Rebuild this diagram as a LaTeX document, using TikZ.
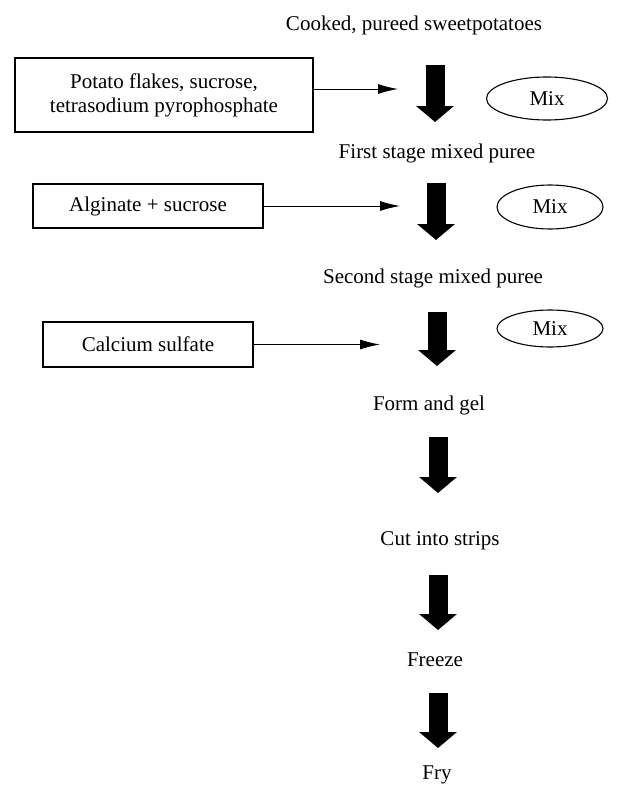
\documentclass[tikz,border=0pt]{standalone}
\usepackage{fontspec}
\setmainfont{Liberation Serif}
\usetikzlibrary{arrows.meta,shapes.geometric}
\begin{document}
\begin{tikzpicture}[x=1pt,y=-1pt,
  lbl/.style={inner sep=0pt, font=\fontsize{21}{24}\selectfont},
  inbox/.style={draw, line width=1.3pt, inner sep=0pt, font=\fontsize{21}{24}\selectfont, align=center},
  mixell/.style={draw, ellipse, line width=1.1pt, inner sep=0pt, font=\fontsize{21}{24}\selectfont},
  thinarr/.style={line width=1pt, -{Latex[length=20pt,width=10pt]}},
  bigarr/.style={line width=19pt, -{Triangle[length=16pt,width=37pt]}}
]
\useasboundingbox (0,0) rectangle (630,792);
% step labels
\node[lbl] (cooked) at (414,25) {Cooked, pureed sweetpotatoes};
\node[lbl] (first) at (437,153) {First stage mixed puree};
\node[lbl] (second) at (433,278) {Second stage mixed puree};
\node[lbl] (form) at (429,405) {Form and gel};
\node[lbl] (cut) at (440,541) {Cut into strips};
\node[lbl] (freeze) at (435,660) {Freeze};
\node[lbl] (fry) at (437,775) {Fry};
% ingredient boxes
\node[inbox, minimum width=298pt, minimum height=74pt] (box1) at (164,95) {Potato flakes, sucrose,\\tetrasodium pyrophosphate};
\node[inbox, minimum width=230pt, minimum height=44pt] (box2) at (148,206) {Alginate + sucrose};
\node[inbox, minimum width=210pt, minimum height=45pt] (box3) at (148,344.5) {Calcium sulfate};
% mix ellipses
\node[mixell, minimum width=121pt, minimum height=43pt] (mix1) at (547,98.5) {Mix};
\node[mixell, minimum width=106pt, minimum height=44pt] (mix2) at (550,207) {Mix};
\node[mixell, minimum width=106pt, minimum height=37pt] (mix3) at (550,328.5) {Mix};
% big arrow ends
\coordinate (b1s) at (435,65);  \coordinate (b1e) at (435,122);
\coordinate (b2s) at (436,183); \coordinate (b2e) at (436,240);
\coordinate (b3s) at (437,312); \coordinate (b3e) at (437,366);
\coordinate (b4s) at (438,437); \coordinate (b4e) at (438,493);
\coordinate (b5s) at (438,575); \coordinate (b5e) at (438,630);
\coordinate (b6s) at (438,693); \coordinate (b6e) at (438,748);
\draw[bigarr] (b1s) -- (b1e);
\draw[bigarr] (b2s) -- (b2e);
\draw[bigarr] (b3s) -- (b3e);
\draw[bigarr] (b4s) -- (b4e);
\draw[bigarr] (b5s) -- (b5e);
\draw[bigarr] (b6s) -- (b6e);
% thin arrows
\coordinate (t1) at (398,89);
\coordinate (t2) at (400,206);
\coordinate (t3) at (380,344.5);
\draw[thinarr] (box1.east |- t1) -- (t1);
\draw[thinarr] (box2.east) -- (t2);
\draw[thinarr] (box3.east) -- (t3);
\end{tikzpicture}
\end{document}
